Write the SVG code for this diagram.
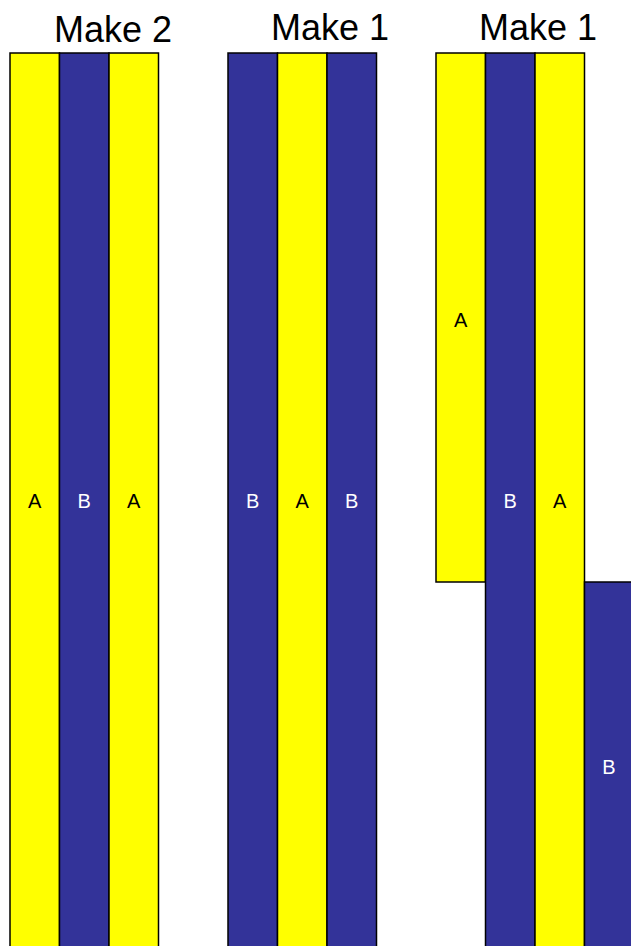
<svg xmlns="http://www.w3.org/2000/svg" width="631" height="946" viewBox="0 0 631 946">
<style>
.y{fill:#FFFF00;stroke:#000;stroke-width:1.5}
.b{fill:#333399;stroke:#000;stroke-width:1.5}
.t{font-family:"Liberation Sans",Arial,sans-serif;font-size:36px;fill:#000;text-anchor:middle}
.la{font-family:"Liberation Sans",Arial,sans-serif;font-size:20px;fill:#000;text-anchor:middle}
.lb{font-family:"Liberation Sans",Arial,sans-serif;font-size:20px;fill:#fff;text-anchor:middle}
</style>
<rect width="631" height="946" fill="#fff"/>
<g id="group1">
<text class="t" x="113" y="42">Make 2</text>
<rect class="y" x="10" y="53" width="49.5" height="900"/>
<rect class="b" x="59.5" y="53" width="49.5" height="900"/>
<rect class="y" x="109" y="53" width="49.5" height="900"/>
<text class="la" x="34.75" y="508">A</text>
<text class="lb" x="84.25" y="508">B</text>
<text class="la" x="133.75" y="508">A</text>
</g>
<g id="group2">
<text class="t" x="330" y="40">Make 1</text>
<rect class="b" x="228" y="53" width="49.5" height="900"/>
<rect class="y" x="277.5" y="53" width="49.5" height="900"/>
<rect class="b" x="327" y="53" width="49.5" height="900"/>
<text class="lb" x="252.75" y="508">B</text>
<text class="la" x="302.25" y="508">A</text>
<text class="lb" x="351.75" y="508">B</text>
</g>
<g id="group3">
<text class="t" x="538" y="40">Make 1</text>
<rect class="y" x="436" y="53" width="49.5" height="529"/>
<rect class="b" x="485.5" y="53" width="49.5" height="900"/>
<rect class="y" x="535" y="53" width="49.5" height="900"/>
<rect class="b" x="584.5" y="582" width="49.5" height="371"/>
<text class="la" x="460.75" y="327">A</text>
<text class="lb" x="510.25" y="508">B</text>
<text class="la" x="559.75" y="508">A</text>
<text class="lb" x="609" y="774">B</text>
</g>
</svg>
